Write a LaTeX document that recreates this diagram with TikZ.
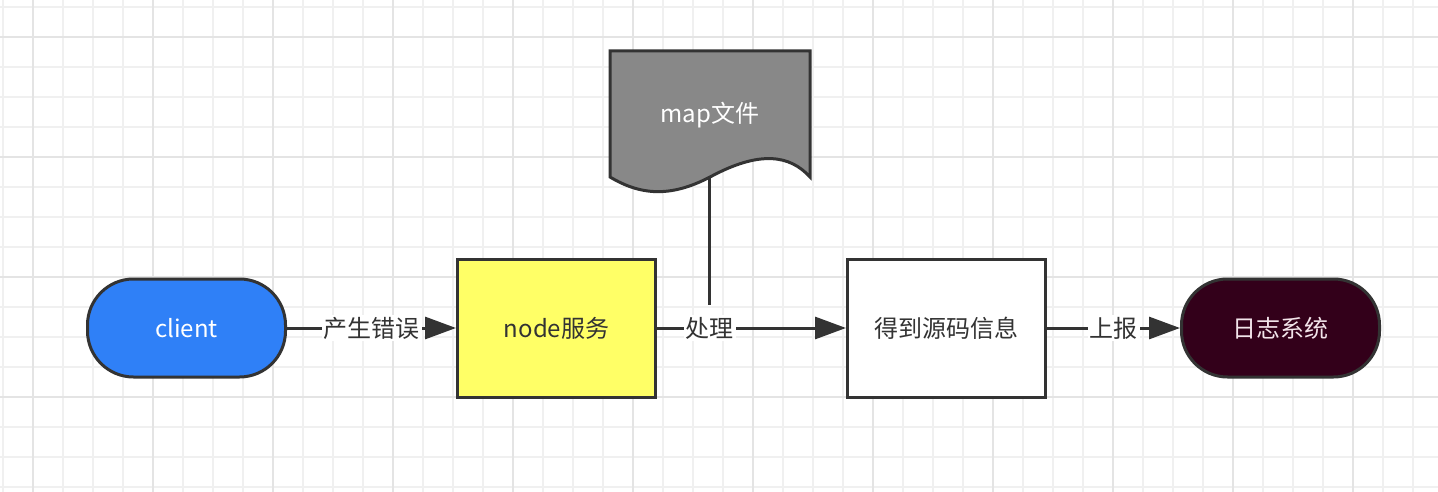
\documentclass[tikz,border=0pt]{standalone}
\usepackage{fontspec}
\setmainfont{Noto Sans CJK SC}
\usetikzlibrary{arrows.meta}
\definecolor{gridminor}{HTML}{F0F0F0}
\definecolor{gridmajor}{HTML}{E4E4E4}
\definecolor{stroke}{HTML}{333333}
\definecolor{cblue}{HTML}{2F80F7}
\definecolor{cyellow}{HTML}{FFFF66}
\definecolor{cgray}{HTML}{888888}
\definecolor{cdark}{HTML}{33001A}
\definecolor{ctext}{HTML}{333333}
\definecolor{cpink}{HTML}{F2E4EA}
\tikzset{
  box/.style={draw=stroke, line width=3pt, minimum width=198pt, minimum height=138pt, inner sep=0pt, text=ctext, font=\fontsize{24}{28}\selectfont},
  stadium/.style={draw=stroke, line width=3pt, minimum width=198pt, minimum height=98pt, rounded corners=46pt, inner sep=0pt, font=\fontsize{24}{28}\selectfont},
  conn/.style={draw=stroke, line width=3pt},
  arr/.style={conn, -{Triangle[length=31pt,width=22pt]}},
  elabel/.style={fill=white, text=ctext, inner sep=2pt, font=\fontsize{24}{28}\selectfont},
}
\begin{document}
\begin{tikzpicture}[x=1pt,y=-1pt]
\useasboundingbox (0,0) rectangle (1438,492);
\fill[white] (0,0) rectangle (1438,492);
% grid
\foreach \i in {0,...,47} {\draw[gridminor, line width=1.5pt] (3+30*\i,0) -- (3+30*\i,492);}
\foreach \j in {0,...,16} {\draw[gridminor, line width=1.5pt] (0,7+30*\j) -- (1438,7+30*\j);}
\foreach \i in {0,...,11} {\draw[gridmajor, line width=1.5pt] (33+120*\i,0) -- (33+120*\i,492);}
\foreach \j in {0,...,3} {\draw[gridmajor, line width=1.5pt] (0,37+120*\j) -- (1438,37+120*\j);}
% nodes
\node[stadium, fill=cblue, text=white] (client) at (186.5,328) {client};
\node[box, fill=cyellow] (nodesvc) at (556.5,328) {node服务};
\node[box, fill=white] (src) at (946.5,328) {得到源码信息};
\node[stadium, fill=cdark, text=cpink] (log) at (1280.5,328) {日志系统};
% document shape
\draw[draw=stroke, fill=cgray, line width=3pt, line join=miter]
  (610,51) -- (810,51) -- (810,177)
  .. controls (790,155) and (760,150) .. (710,177)
  .. controls (670,198) and (640,195) .. (610,177) -- cycle;
\node[text=white, font=\fontsize{24}{28}\selectfont] (map) at (710,115) {map文件};
\coordinate (mapbot) at (709,177);
% connectors
\draw[arr] (client) -- node[elabel] {产生错误} (nodesvc);
\draw[arr] (nodesvc) -- node[elabel, pos=0.28] (chuli) {处理} (src);
\draw[arr] (src) -- node[elabel] {上报} (log);
\draw[conn] (mapbot) -- ([yshift=8pt]mapbot |- chuli.north);
\end{tikzpicture}
\end{document}
